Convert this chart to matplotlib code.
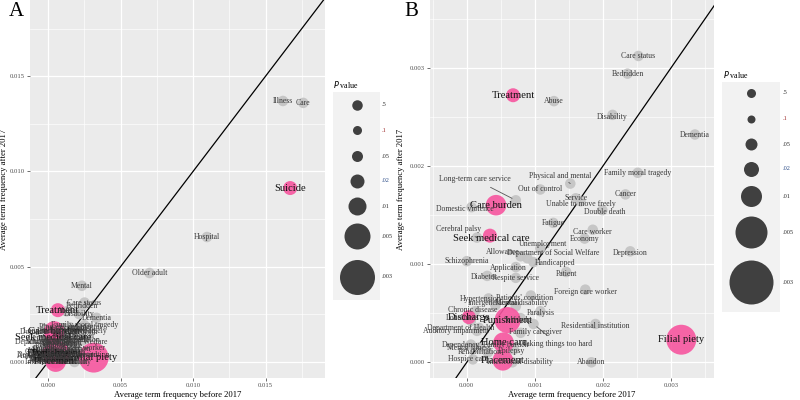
import numpy as np
import matplotlib
matplotlib.use("Agg")
import matplotlib.pyplot as plt

plt.rcParams['font.family'] = ['Liberation Serif', 'DejaVu Serif']

# term frequencies before / after 2017 and p values
terms = ["Illness", "Care", "Suicide", "Hospital", "Older adult", "Mental",
         "Care status", "Bedridden", "Treatment", "Abuse", "Disability", "Dementia",
         "Physical and mental", "Family moral tragedy", "Out of control",
         "Long-term care service", "Cancer", "Service", "Care burden",
         "Domestic violence", "Unable to move freely", "Double death", "Fatigue",
         "Care worker", "Economy", "Cerebral palsy", "Seek medical care",
         "Unemployment", "Allowance", "Department of Social Welfare", "Handicapped",
         "Application", "Depression", "Schizophrenia", "Patient", "Diabetes",
         "Respite service", "Foreign care worker", "Patients' condition",
         "Hypertension", "Paralysis", "Residential institution", "Filial piety",
         "Taking things too hard", "Abandon", "Intergenerational", "Mental disability",
         "Chronic disease", "Discharge", "Loneliness", "Punishment", "Self-help",
         "Department of Health", "Auditory impairment", "Family caregiver",
         "Home care", "Dependency", "Family burden", "Mental illness", "Epilepsy",
         "Rehabilitation", "Hospice care", "Placement", "Intellectual disability"]
before = [0.0162, 0.0176, 0.0167, 0.01096, 0.0070, 0.00234,
          0.00252, 0.00236, 0.00068, 0.00128, 0.00214, 0.00335,
          0.00152, 0.00251, 0.00108,
          0.00072, 0.00233, 0.0016, 0.00043,
          0.00007, 0.00167, 0.00199, 0.00127,
          0.00185, 0.00173, 0.00015, 0.00034,
          0.00108, 0.00079, 0.00089, 0.00098,
          0.00072, 0.0024, 0.0, 0.00146, 0.0003,
          0.00072, 0.00174, 0.00094,
          0.00032, 0.00108, 0.00189, 0.00315,
          0.00098, 0.00183, 0.00042, 0.00072,
          0.00012, 0.00003, 0.00006, 0.0006, 0.00079,
          0.00018, 0.00015, 0.00079,
          0.00054, 0.00006, 0.00045, 0.00018, 0.00069,
          0.00031, 0.00009, 0.00053, 0.00067]
after = [0.0137, 0.0136, 0.00913, 0.00656, 0.00467, 0.0040,
         0.00312, 0.00294, 0.00272, 0.00266, 0.00252, 0.00232,
         0.00182, 0.00193, 0.00176,
         0.00165, 0.00171, 0.00167, 0.0016,
         0.00158, 0.00164, 0.00155, 0.00142,
         0.00135, 0.00126, 0.00127, 0.00129,
         0.00116, 0.00108, 0.00106, 0.00102,
         0.00097, 0.00113, 0.00103, 0.00092, 0.00088,
         0.00086, 0.00074, 0.00068,
         0.00065, 0.00052, 0.00039, 0.00023,
         0.00039, 0.0, 0.00058, 0.00057,
         0.00052, 0.00046, 0.00042, 0.00043, 0.00045,
         0.00035, 0.00032, 0.0003,
         0.0002, 0.00018, 0.00019, 0.00015, 0.00013,
         0.0001, 0.00003, 0.00002, 0.0]
pvals = [0.5, 0.5, 0.02, 0.5, 0.5, 0.5,
         0.5, 0.5, 0.02, 0.5, 0.5, 0.5,
         0.5, 0.5, 0.5,
         0.5, 0.5, 0.5, 0.008,
         0.5, 0.5, 0.5, 0.5,
         0.5, 0.5, 0.5, 0.02,
         0.5, 0.5, 0.5, 0.5,
         0.5, 0.5, 0.5, 0.5, 0.5,
         0.5, 0.5, 0.5,
         0.5, 0.5, 0.5, 0.004,
         0.5, 0.5, 0.5, 0.5,
         0.5, 0.02, 0.5, 0.005, 0.5,
         0.5, 0.5, 0.5,
         0.008, 0.5, 0.5, 0.5, 0.5,
         0.5, 0.5, 0.008, 0.5]

p_levels = [0.5, 0.1, 0.05, 0.02, 0.01, 0.005, 0.003]
p_labels = [".5", ".1", ".05", ".02", ".01", ".005", ".003"]

# ---- style / layout ----
PINK = "#F7559F"
GREY = "#C4C4C4"
diam_a = [10.5, 9, 11, 14, 18, 26, 35]   # px diameters, legend A and points
diam_b = [9, 8, 12, 15, 21, 32, 44]      # legend B drawn a bit bigger
lab_col = ["#333333", "#a03030", "#333333", "#30508a", "#333333", "#333333", "#333333"]

# label offsets in panel B (pixels, right / down)
offs_b = {
    "Physical and mental": (-10, -8), "Long-term care service": (-41, -21),
    "Domestic violence": (-7, 2), "Unable to move freely": (0, 3),
    "Double death": (2, 2), "Care worker": (0, 2), "Cerebral palsy": (-18, -9),
    "Seek medical care": (1, 3), "Unemployment": (3, -4), "Allowance": (-18, -4),
    "Department of Social Welfare": (26, -5), "Handicapped": (22, 1),
    "Application": (-8, 1), "Depression": (0, 2), "Patient": (0, 2),
    "Diabetes": (-3, 1), "Foreign care worker": (0, 2), "Patients' condition": (-6, 2),
    "Hypertension": (-8, 1), "Paralysis": (0, 2), "Residential institution": (0, 2),
    "Taking things too hard": (24, 20), "Intergenerational": (-1, -2),
    "Mental disability": (6, -3), "Chronic disease": (-2, -1), "Loneliness": (-8, -3),
    "Self-help": (-3, 2), "Department of Health": (-18, 0),
    "Auditory impairment": (-21, 0), "Family caregiver": (15, -1),
    "Dependency": (-10, 0), "Family burden": (8, 1), "Mental illness": (-10, 0),
    "Epilepsy": (-2, 1), "Rehabilitation": (-8, 0), "Hospice care": (-5, 0),
    "Intellectual disability": (8, 0), "Disability": (0, 2),
}
lines_b = {"Long-term care service", "Cerebral palsy", "Taking things too hard",
           "Physical and mental"}


def px_size(p, diams):
    lp = -np.log10(np.array(p_levels))
    return np.interp(-np.log10(p), lp, diams)


x = np.array(before)
y = np.array(after)
p = np.array(pvals)
sig = p < 0.05
s = (px_size(p, diam_a) * 0.72) ** 2

fig = plt.figure(figsize=(8, 4), dpi=100)


def panel(rect, xlim, ylim, xmaj, ymaj, xmin, ymin, offsets, ylab_x):
    ax = fig.add_axes(rect)
    ax.set_facecolor("#EBEBEB")
    for sp in ax.spines.values():
        sp.set_visible(False)
    ax.set_xlim(*xlim)
    ax.set_ylim(*ylim)
    ax.set_xticks(xmaj)
    ax.set_yticks(ymaj)
    ax.set_xticks(xmin, minor=True)
    ax.set_yticks(ymin, minor=True)
    ax.set_xticklabels(["%.3f" % v for v in xmaj])
    ax.set_yticklabels(["%.3f" % v for v in ymaj])
    ax.grid(which="major", color="white", lw=0.9)
    ax.grid(which="minor", color="white", lw=0.45)
    ax.set_axisbelow(True)
    ax.tick_params(which="major", length=2, width=0.5, color="#333333",
                   labelsize=4.8, labelcolor="#4D4D4D", pad=1.5)
    ax.tick_params(which="minor", length=0)
    ax.set_xlabel("Average term frequency before 2017", fontsize=6.2, labelpad=2)
    ax.set_ylabel("Average term frequency after 2017", fontsize=6.2)
    ax.yaxis.set_label_coords(ylab_x, 0.5)
    lo = min(xlim[0], ylim[0])
    hi = max(xlim[1], ylim[1])
    ax.plot([lo, hi], [lo, hi], color="black", lw=0.9, zorder=2)
    ax.scatter(x[~sig], y[~sig], s=s[~sig], c=GREY, alpha=0.95, lw=0, zorder=3)
    ax.scatter(x[sig], y[sig], s=s[sig], c=PINK, alpha=0.9, lw=0, zorder=4)
    for i, t in enumerate(terms):
        if not (xlim[0] <= x[i] <= xlim[1] and ylim[0] <= y[i] <= ylim[1]):
            continue
        dx, dy = offsets.get(t, (0, 0))
        kw = dict(textcoords="offset points", ha="center", va="center", zorder=6,
                  annotation_clip=False)
        if offsets and t in lines_b:
            kw["arrowprops"] = dict(arrowstyle="-", color="#555555", lw=0.6,
                                    shrinkA=2, shrinkB=3)
        if sig[i]:
            ax.annotate(t, (x[i], y[i]), xytext=(dx * 0.72, -dy * 0.72),
                        fontsize=7.6, color="#111111", **kw)
        else:
            ax.annotate(t, (x[i], y[i]), xytext=(dx * 0.72, -dy * 0.72),
                        fontsize=5.6, color="#3a3a3a", **kw)
    return ax


ax_a = panel([30 / 800, 22 / 400, 295 / 800, 378 / 400],
             (-0.00124, 0.0191), (-0.00084, 0.019),
             [0, 0.005, 0.010, 0.015], [0, 0.005, 0.010, 0.015],
             [0.0025, 0.0075, 0.0125, 0.0175], [0.0025, 0.0075, 0.0125, 0.0175], {},
             -0.075)
ax_b = panel([430 / 800, 22 / 400, 284 / 800, 378 / 400],
             (-0.00054, 0.00363), (-0.00016, 0.00369),
             [0, 0.001, 0.002, 0.003], [0, 0.001, 0.002, 0.003],
             [-0.0005, 0.0005, 0.0015, 0.0025, 0.0035],
             [0.0005, 0.0015, 0.0025, 0.0035], offs_b, -0.088)

# overlay in pixel units for the panel tags and size legends
ov = fig.add_axes([0, 0, 1, 1])
ov.set_xlim(0, 800)
ov.set_ylim(400, 0)
ov.axis("off")
ov.text(9, 2, "A", fontsize=15, va="top", ha="left")
ov.text(404, 2, "B", fontsize=15, va="top", ha="left")


def size_legend(box, cx, ys, lx, diams, title_xy):
    x0, y0, x1, y1 = box
    ov.add_patch(plt.Rectangle((x0, y0), x1 - x0, y1 - y0, color="#F2F2F2", lw=0))
    ov.text(title_xy[0], title_xy[1], "$P$ value", fontsize=5.8, va="center", ha="left")
    for yy, d, lab, c in zip(ys, diams, p_labels, lab_col):
        ov.scatter([cx], [yy], s=(d * 0.72) ** 2, c="#404040", lw=0)
        ov.text(lx, yy, lab, fontsize=4.6, va="center", ha="left", color=c)


size_legend((333, 92, 380, 300), 357, [105, 130, 156, 181, 206, 236, 277], 382,
            diam_a, (333, 85))
size_legend((722, 82, 780, 312), 751, [93, 119, 144, 169, 196, 232, 282], 783,
            diam_b, (723, 75))

fig.savefig("out.png", dpi=100)
